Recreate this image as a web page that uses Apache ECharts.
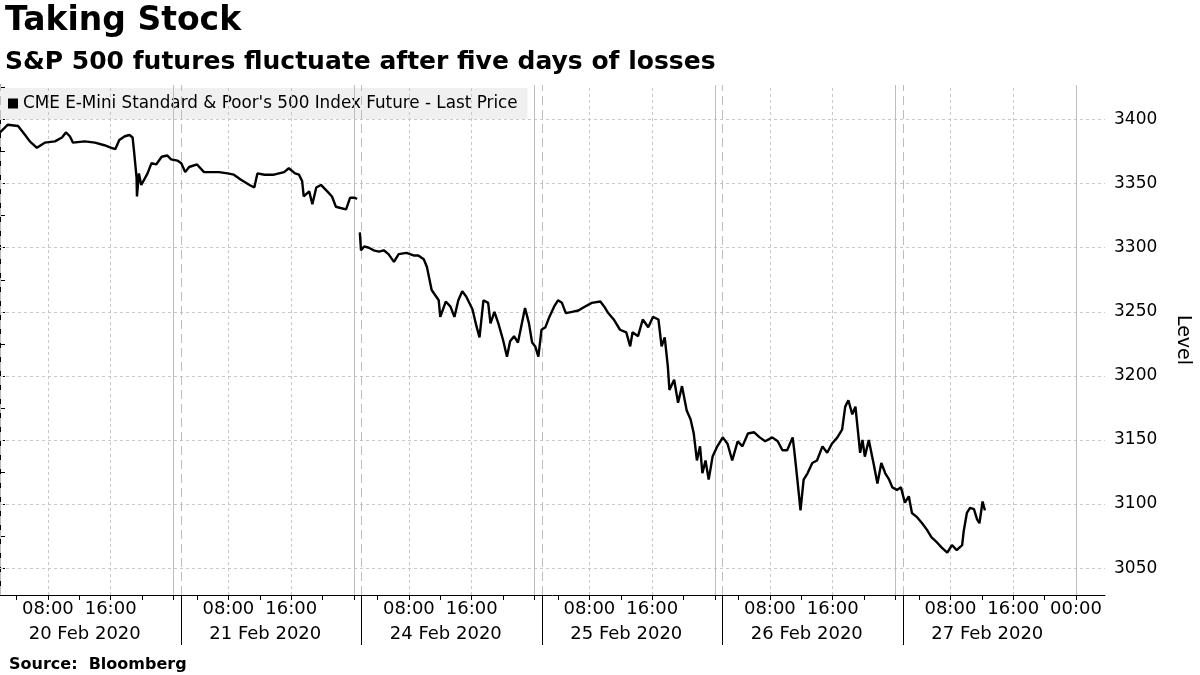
<!DOCTYPE html>
<html><head><meta charset="utf-8">
<script src="https://cdn.jsdelivr.net/npm/echarts@6/dist/echarts.min.js"></script>
<style>html,body{margin:0;padding:0;background:#fff}#c{width:1200px;height:675px}</style>
</head><body><div id="c"></div>
<script>
// Time in trading hours since 20 Feb session start (23 trading hours per day)
const times = [0,1.0,2.3,3.2,3.8,4.7,5.7,7.0,7.9,8.4,8.9,9.3,10.8,12.1,13.3,14.2,14.7,15.2,15.9,16.5,16.9,17.1,17.4,17.45,17.7,18.0,18.8,19.3,19.9,20.6,21.3,21.8,22.6,23.1,23.6,24.1,25.1,26.0,26.7,27.9,29.0,29.8,30.7,31.8,32.4,32.8,33.7,34.9,36.2,36.8,37.6,38.1,38.5,38.7,39.4,39.8,40.3,40.9,41.7,42.3,42.8,43.4,44.1,44.6,45.2,45.5,45.7,
45.85,46.0,46.4,47.0,47.6,48.3,48.9,49.5,50.2,50.8,51.8,52.7,53.3,54.0,54.4,55.0,55.9,56.1,56.8,57.4,57.9,58.4,58.9,59.4,60.2,60.7,61.1,61.6,62.2,62.5,63.0,63.5,64.1,64.6,65.0,65.5,66.0,66.5,66.9,67.4,67.8,68.2,68.6,69.0,69.5,70.0,70.6,71.1,71.6,72.1,72.9,73.7,74.5,75.4,76.5,77.0,77.5,78.2,79.0,79.8,80.3,80.6,81.3,81.9,82.6,83.2,83.9,84.3,84.7,85.1,85.3,85.9,86.4,86.9,87.5,88.0,88.4,88.8,89.2,89.5,89.9,90.3,90.8,91.4,92.1,92.7,93.3,94.0,94.6,95.3,96.1,96.8,97.5,98.4,99.1,99.7,100.3,101.0,101.2,101.6,102.0,102.4,102.9,103.5,104.1,104.8,105.4,106.0,106.7,107.3,107.7,108.1,108.6,109.0,109.3,109.6,109.9,110.2,110.7,111.3,111.8,112.3,112.8,113.3,113.7,114.3,114.8,115.3,115.8,116.2,116.8,117.5,118.1,118.7,119.4,120.0,120.7,121.3,121.9,122.6,122.8,123.2,123.6,124.1,124.5,124.8,125.2,125.5];
const prices = [3390,3396,3395,3388,3383,3378,3382,3383,3386,3390,3387,3382,3383,3382,3380,3378,3377,3384,3387,3388,3386,3374,3355,3340,3358,3349,3358,3366,3365,3371,3372,3369,3368,3366,3359,3363,3365,3359,3359,3359,3358,3357,3353,3349,3347,3358,3357,3357,3359,3362,3358,3357,3352,3340,3344,3334,3347,3349,3344,3340,3332,3331,3330,3339,3339,3338,null,
3312,3298,3301,3300,3298,3297,3298,3295,3289,3295,3296,3294,3294,3291,3285,3267,3259,3246,3258,3254,3246,3259,3266,3262,3252,3239,3230,3259,3257,3241,3250,3241,3228,3215,3227,3231,3226,3241,3253,3241,3226,3223,3215,3236,3238,3246,3254,3259,3257,3249,3250,3251,3254,3257,3258,3254,3249,3244,3236,3234,3223,3234,3231,3244,3238,3246,3244,3223,3230,3207,3189,3197,3179,3192,3173,3166,3155,3134,3145,3124,3134,3119,3137,3145,3152,3147,3134,3149,3145,3155,3156,3152,3149,3152,3149,3142,3142,3152,3142,3119,3095,3119,3124,3132,3134,3145,3140,3147,3152,3158,3176,3181,3170,3176,3158,3140,3150,3137,3150,3132,3116,3132,3124,3119,3113,3111,3113,3101,3106,3093,3090,3085,3080,3074,3070,3066,3062,3068,3064,3068,3079,3093,3097,3096,3088,3085,3102,3095];
const dayLabels = ['20 Feb 2020','21 Feb 2020','24 Feb 2020','25 Feb 2020','26 Feb 2020','27 Feb 2020'];
const yTicks = [3050,3100,3150,3200,3250,3300,3350,3400];
const DAY = 23; // trading hours per day on the axis

const dayStarts = dayLabels.map((_, i) => i * DAY);
const at8 = dayStarts.map(s => s + 6.1), at16 = dayStarts.map(s => s + 14.1), at0 = dayStarts.map(s => s + 22.1);
const timeLabelVals = [...at8, ...at16, at0[5]];
const minorTicks = [];
dayStarts.forEach(s => [2.1, 6.1, 10.1, 14.1, 18.1, 22.1].forEach(o => minorTicks.push(s + o)));
const dayLabelVals = dayStarts.map(s => s + 10.8);
const fmtTime = v => { const o = +(v % DAY).toFixed(1); return o === 6.1 ? '08:00' : o === 14.1 ? '16:00' : '00:00'; };

const data = times.map((t, i) => [t, prices[i]]);
const mlY = yTicks.map(v => ({ yAxis: v, lineStyle: { type: [3, 3], color: '#c8c8c8', width: 1 } }));
const mlX = [
  ...at8.concat(at16).map(v => ({ xAxis: v, lineStyle: { type: [3, 3], color: '#c8c8c8', width: 1 } })),
  ...at0.map(v => ({ xAxis: v, lineStyle: { type: 'solid', color: '#bdbdbd', width: 1 } })),
  ...dayStarts.map(v => ({ xAxis: v + 0.05, lineStyle: { type: [9, 5], color: '#bdbdbd', width: 1 } }))
];

const chart = echarts.init(document.getElementById('c'));
chart.setOption({
  animation: false,
  textStyle: { fontFamily: 'DejaVu Sans' },
  title: [
    { text: 'Taking Stock', left: 0, top: 0, textStyle: { fontSize: 33, fontWeight: 'bold', color: '#000', fontFamily: 'DejaVu Sans' } },
    { text: 'S&P 500 futures fluctuate after five days of losses', left: 0, top: 45, textStyle: { fontSize: 25, fontWeight: 'bold', color: '#000', fontFamily: 'DejaVu Sans' } },
    { text: 'Source:  Bloomberg', left: 4, top: 652, textStyle: { fontSize: 16, fontWeight: 'bold', color: '#000', fontFamily: 'DejaVu Sans' } }
  ],
  legend: {
    left: 0, top: 88, itemWidth: 10, itemHeight: 10, padding: [7, 10, 7, 8],
    backgroundColor: '#f0f0f0', icon: 'rect',
    textStyle: { fontSize: 16.8, color: '#000', fontFamily: 'DejaVu Sans' },
    data: [{ name: "CME E-Mini Standard & Poor's 500 Index Future - Last Price", itemStyle: { color: '#000' } }]
  },
  grid: { left: 0, right: 92, top: 85, bottom: 80 },
  xAxis: [
    { type: 'value', min: 0, max: 140.8, position: 'bottom',
      axisLine: { show: true, lineStyle: { color: '#000', width: 1 } },
      splitLine: { show: false },
      axisTick: { show: true, customValues: minorTicks, length: 5, lineStyle: { color: '#000' } },
      axisLabel: { customValues: timeLabelVals, formatter: fmtTime, fontSize: 18, color: '#000', margin: 5, fontFamily: 'DejaVu Sans' } },
    { type: 'value', min: 0, max: 140.8, position: 'bottom',
      axisLine: { show: false }, splitLine: { show: false },
      axisTick: { show: true, customValues: dayStarts.slice(1).map(v => v + 0.05), length: 50, lineStyle: { color: '#000' } },
      axisLabel: { customValues: dayLabelVals, formatter: v => dayLabels[Math.round((v - 10.8) / DAY)], fontSize: 18, color: '#000', margin: 30, fontFamily: 'DejaVu Sans' } }
  ],
  yAxis: {
    type: 'value', min: 3029, max: 3427, position: 'right',
    name: 'Level', nameLocation: 'middle', nameRotate: -90, nameGap: 68,
    nameTextStyle: { fontSize: 19, color: '#000', fontFamily: 'DejaVu Sans' },
    axisLine: { show: true, lineStyle: { color: '#000' } },
    splitLine: { show: false },
    axisTick: { show: true, customValues: [3050,3075,3100,3125,3150,3175,3200,3225,3250,3275,3300,3325,3350,3375,3400,3425], length: 5, lineStyle: { color: '#000' } },
    axisLabel: { customValues: yTicks, formatter: v => String(v), fontSize: 17, color: '#000', margin: 9, fontFamily: 'DejaVu Sans' }
  },
  series: [{
    name: "CME E-Mini Standard & Poor's 500 Index Future - Last Price",
    type: 'line', data, showSymbol: false, connectNulls: false, xAxisIndex: 0,
    lineStyle: { color: '#000', width: 2.4 }, itemStyle: { color: '#000' },
    markLine: { silent: true, symbol: 'none', label: { show: false }, data: [...mlY, ...mlX] },
    z: 5
  }]
});
</script></body></html>
